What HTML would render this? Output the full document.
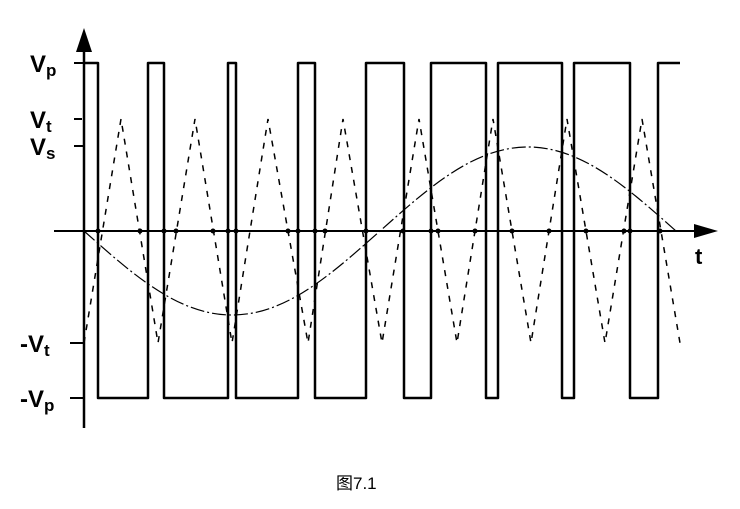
<!DOCTYPE html>
<html><head><meta charset="utf-8"><style>
html,body{margin:0;padding:0;background:#fff;}
svg{display:block;}
</style></head><body>
<svg width="740" height="509" viewBox="0 0 740 509" xmlns="http://www.w3.org/2000/svg">
<rect width="740" height="509" fill="#fff"/>
<line x1="84" y1="48" x2="84" y2="428" stroke="#000" stroke-width="2.5"/>
<polygon points="84,28 76,52 92,52" fill="#000"/>
<line x1="54" y1="231" x2="700" y2="231" stroke="#000" stroke-width="2"/>
<polygon points="718,231 694,224 694,238" fill="#000"/>
<g stroke="#000" stroke-width="2">
<line x1="74" y1="63" x2="84" y2="63"/>
<line x1="74" y1="119" x2="82" y2="119"/>
<line x1="74" y1="146" x2="84" y2="146"/>
<line x1="70" y1="343" x2="84" y2="343"/>
<line x1="70" y1="398" x2="84" y2="398"/>
</g>
<path d="M84 63 H98 V398 H148 V63 H164 V398 H228 V63 H236 V398 H298 V63 H315 V398 H366 V63 H404 V398 H431 V63 H486 V398 H498 V63 H562 V398 H574 V63 H630 V398 H658 V63 H680" fill="none" stroke="#000" stroke-width="2.5" stroke-linejoin="round"/>
<polyline points="84,343 121,119 158,343 195,119 232,343 268,119 308,343 343,119 382,343 419,119 457,343 493,119 531,343 567,119 605,343 642,119 680,343" fill="none" stroke="#000" stroke-width="1.5" stroke-dasharray="6,7"/>
<path d="M84 231 C133.5 275, 178.2 315, 232 315 C285.8 315, 330.5 275, 380 231 C429.5 187, 474.2 147, 528 147 C581.8 147, 626.5 187, 676 231" fill="none" stroke="#000" stroke-width="1.2" stroke-dasharray="14,3,2,3"/>
<g fill="#000">
<circle cx="98" cy="231" r="2.5"/><circle cx="140" cy="231" r="2.5"/><circle cx="164" cy="231" r="2.5"/>
<circle cx="176" cy="231" r="2.5"/><circle cx="213" cy="231" r="2.5"/><circle cx="228" cy="231" r="2.5"/>
<circle cx="236" cy="231" r="2.5"/><circle cx="288" cy="231" r="2.5"/><circle cx="298" cy="231" r="2.5"/>
<circle cx="315" cy="231" r="2.5"/><circle cx="325" cy="231" r="2.5"/><circle cx="366" cy="231" r="2.5"/>
<circle cx="403" cy="231" r="2.5"/><circle cx="431" cy="231" r="2.5"/><circle cx="438" cy="231" r="2.5"/>
<circle cx="475" cy="231" r="2.5"/><circle cx="512" cy="231" r="2.5"/><circle cx="549" cy="231" r="2.5"/>
<circle cx="586" cy="231" r="2.5"/><circle cx="624" cy="231" r="2.5"/><circle cx="630" cy="231" r="2.5"/>
<circle cx="660" cy="231" r="2.5"/>
</g>
<g font-family="Liberation Sans, sans-serif" font-weight="bold" fill="#000">
<text x="30" y="72" font-size="24">V<tspan font-size="17" dy="4">p</tspan></text>
<text x="30" y="128" font-size="24">V<tspan font-size="17" dy="4">t</tspan></text>
<text x="30" y="155" font-size="24">V<tspan font-size="17" dy="4">s</tspan></text>
<text x="20" y="352" font-size="24">-V<tspan font-size="17" dy="4">t</tspan></text>
<text x="20" y="407" font-size="24">-V<tspan font-size="17" dy="4">p</tspan></text>
<text x="695" y="264" font-size="22">t</text>
</g>
<text x="336" y="489" font-family="Liberation Sans, 'Noto Sans CJK SC', sans-serif" font-size="17" fill="#000">图7.1</text>
</svg>
</body></html>
